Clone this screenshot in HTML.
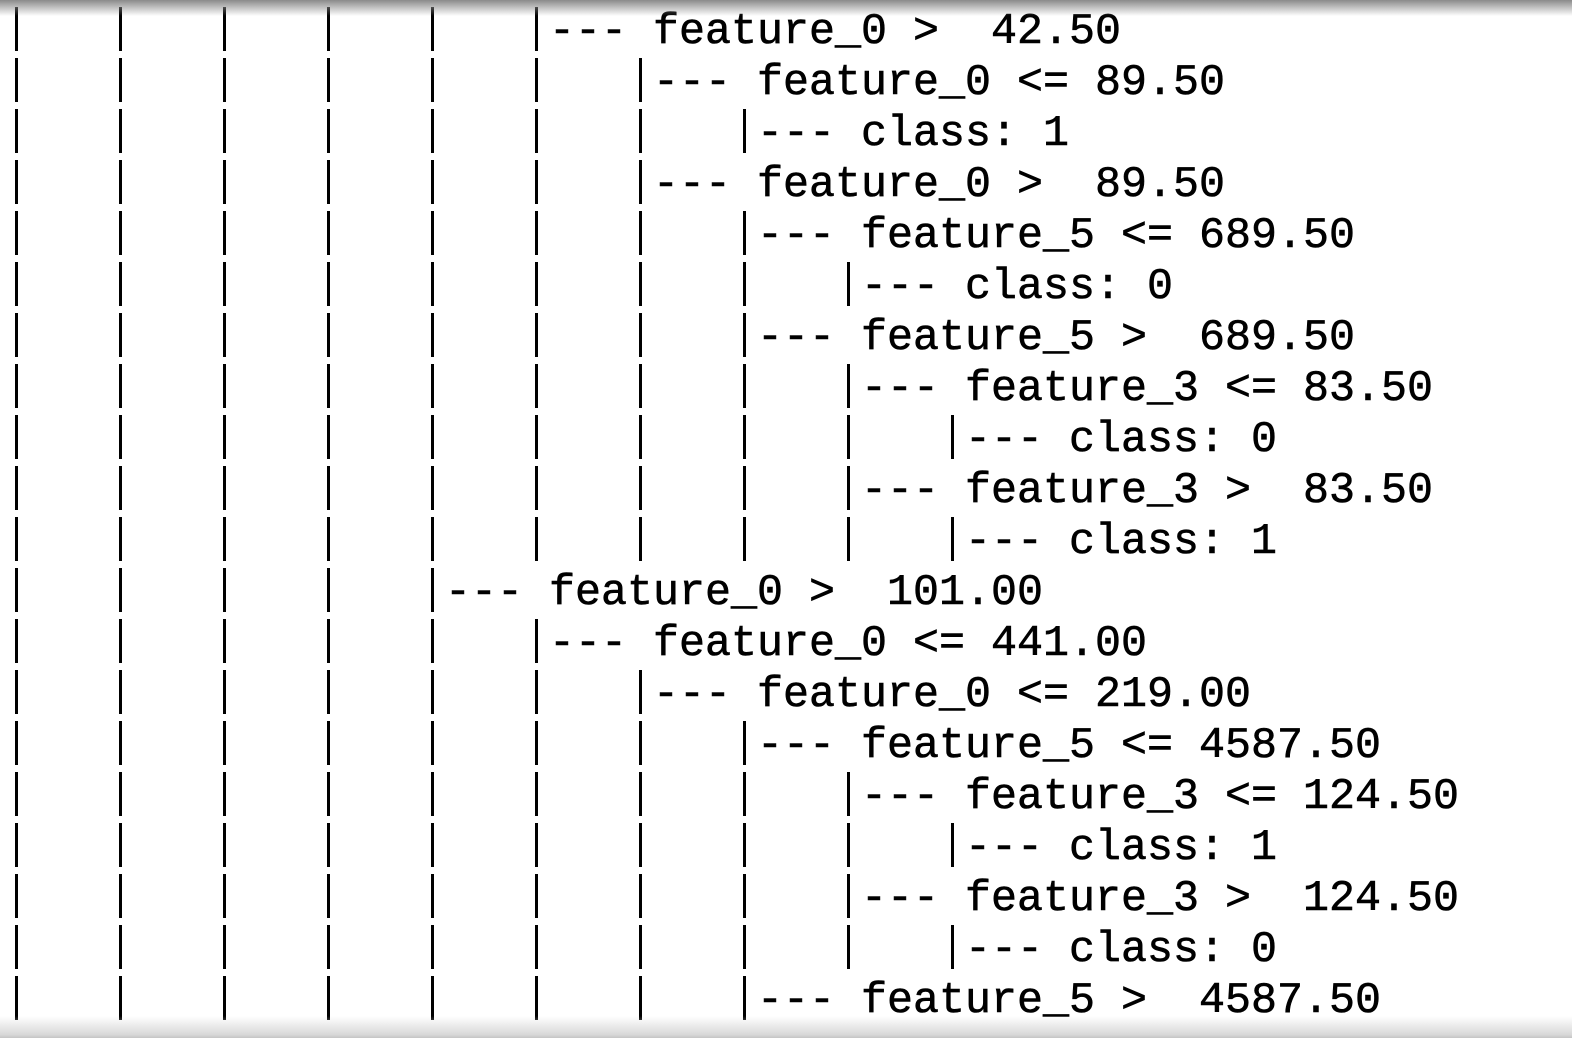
<!DOCTYPE html>
<html><head><meta charset="utf-8"><style>
html{width:1572px;height:1056px;overflow:hidden;}
html,body{margin:0;padding:0;background:#fff;}
body{width:1572px;height:1056px;position:relative;overflow:hidden;}
.r{position:absolute;left:3px;height:51px;font-family:"Liberation Mono",monospace;font-size:43.33px;line-height:51px;white-space:pre;color:#000;-webkit-text-stroke:0.6px #000;}
.b{position:absolute;left:0;top:4px;height:44px;background:linear-gradient(to right,transparent 12px,#000 12px,#000 15px,transparent 15px);background-size:104px 44px;background-repeat:repeat-x;}
.t{position:absolute;top:4px;}
#top{position:absolute;left:0;top:0;width:1572px;height:16px;background:linear-gradient(#8a8a8a,rgba(255,255,255,0));}
#bot{position:absolute;left:0;top:1016px;width:1572px;height:22px;background:linear-gradient(rgba(255,255,255,0),#d8d8d8 85%,#c4c4c4);}
#bw{position:absolute;left:0;top:1038px;width:1572px;height:18px;background:#fff;}
</style></head><body>
<div class="r" style="top:3px"><div class="b" style="width:546px"></div><div class="t" style="left:546px">--- feature_0 &gt;  42.50</div></div>
<div class="r" style="top:54px"><div class="b" style="width:650px"></div><div class="t" style="left:650px">--- feature_0 &lt;= 89.50</div></div>
<div class="r" style="top:105px"><div class="b" style="width:754px"></div><div class="t" style="left:754px">--- class: 1</div></div>
<div class="r" style="top:156px"><div class="b" style="width:650px"></div><div class="t" style="left:650px">--- feature_0 &gt;  89.50</div></div>
<div class="r" style="top:207px"><div class="b" style="width:754px"></div><div class="t" style="left:754px">--- feature_5 &lt;= 689.50</div></div>
<div class="r" style="top:258px"><div class="b" style="width:858px"></div><div class="t" style="left:858px">--- class: 0</div></div>
<div class="r" style="top:309px"><div class="b" style="width:754px"></div><div class="t" style="left:754px">--- feature_5 &gt;  689.50</div></div>
<div class="r" style="top:360px"><div class="b" style="width:858px"></div><div class="t" style="left:858px">--- feature_3 &lt;= 83.50</div></div>
<div class="r" style="top:411px"><div class="b" style="width:962px"></div><div class="t" style="left:962px">--- class: 0</div></div>
<div class="r" style="top:462px"><div class="b" style="width:858px"></div><div class="t" style="left:858px">--- feature_3 &gt;  83.50</div></div>
<div class="r" style="top:513px"><div class="b" style="width:962px"></div><div class="t" style="left:962px">--- class: 1</div></div>
<div class="r" style="top:564px"><div class="b" style="width:442px"></div><div class="t" style="left:442px">--- feature_0 &gt;  101.00</div></div>
<div class="r" style="top:615px"><div class="b" style="width:546px"></div><div class="t" style="left:546px">--- feature_0 &lt;= 441.00</div></div>
<div class="r" style="top:666px"><div class="b" style="width:650px"></div><div class="t" style="left:650px">--- feature_0 &lt;= 219.00</div></div>
<div class="r" style="top:717px"><div class="b" style="width:754px"></div><div class="t" style="left:754px">--- feature_5 &lt;= 4587.50</div></div>
<div class="r" style="top:768px"><div class="b" style="width:858px"></div><div class="t" style="left:858px">--- feature_3 &lt;= 124.50</div></div>
<div class="r" style="top:819px"><div class="b" style="width:962px"></div><div class="t" style="left:962px">--- class: 1</div></div>
<div class="r" style="top:870px"><div class="b" style="width:858px"></div><div class="t" style="left:858px">--- feature_3 &gt;  124.50</div></div>
<div class="r" style="top:921px"><div class="b" style="width:962px"></div><div class="t" style="left:962px">--- class: 0</div></div>
<div class="r" style="top:972px"><div class="b" style="width:754px"></div><div class="t" style="left:754px">--- feature_5 &gt;  4587.50</div></div>
<div class="r" style="top:1023px;height:15px;overflow:hidden"><div class="b" style="width:858px"></div><div class="t" style="left:858px">--- class: 0</div></div>
<div id="top"></div>
<div id="bot"></div>
<div id="bw"></div>
</body></html>
